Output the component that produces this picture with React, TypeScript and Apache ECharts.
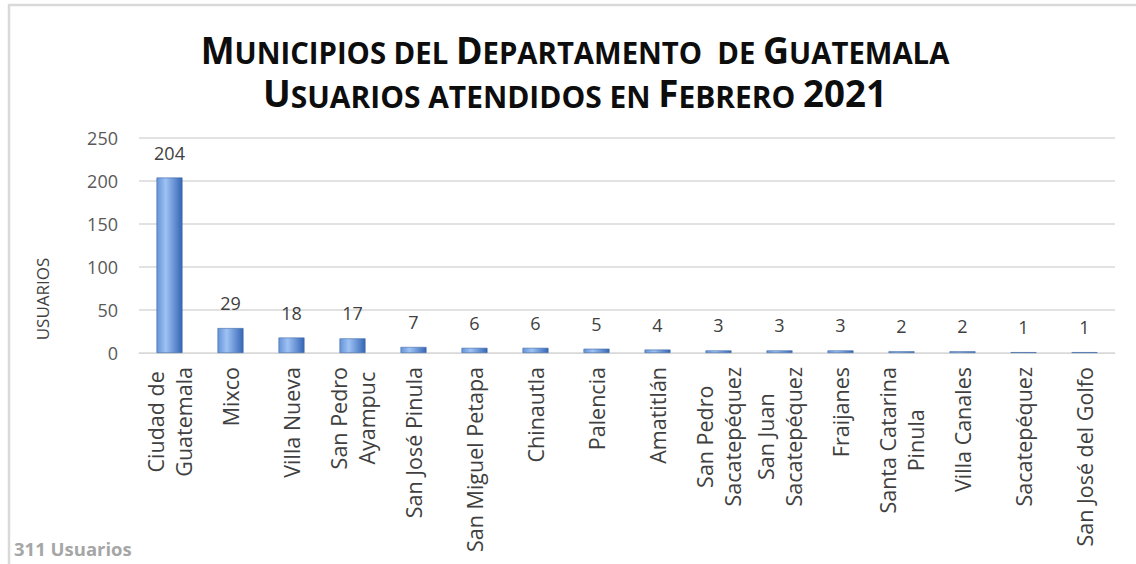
import React, { useEffect, useRef } from "react";
import * as echarts from "echarts";

const categories: string[] = [
  "Ciudad de\nGuatemala",
  "Mixco",
  "Villa Nueva",
  "San Pedro\nAyampuc",
  "San José Pinula",
  "San Miguel Petapa",
  "Chinautla",
  "Palencia",
  "Amatitlán",
  "San Pedro\nSacatepéquez",
  "San Juan\nSacatepéquez",
  "Fraijanes",
  "Santa Catarina\nPinula",
  "Villa Canales",
  "Sacatepéquez",
  "San José del Golfo",
];
const usuarios: number[] = [204, 29, 18, 17, 7, 6, 6, 5, 4, 3, 3, 3, 2, 2, 1, 1];
const yTicks = { min: 0, max: 250, interval: 50 };
const axisName = "USUARIOS";
const footnote = "311 Usuarios";
const titleLine1: [string, string][] = [
  ["M", "b"], ["UNICIPIOS DEL ", "s"], ["D", "b"], ["EPARTAMENTO  DE ", "s"], ["G", "b"], ["UATEMALA", "s"],
];
const titleLine2: [string, string][] = [
  ["U", "b"], ["SUARIOS ATENDIDOS EN ", "s"], ["F", "b"], ["EBRERO ", "s"], ["2021", "b"],
];

const FONT = "'Open Sans', 'Liberation Sans', sans-serif";

function richText(parts: [string, string][]) {
  return parts.map(([t, k]) => `{${k}|${t}}`).join("");
}

export default function App() {
  const ref = useRef<HTMLDivElement>(null);
  useEffect(() => {
    if (!ref.current) return;
    const chart = echarts.init(ref.current, undefined, { renderer: "svg" });
    const titleRich = {
      b: { fontFamily: FONT, fontWeight: "bold", fontSize: 38, fill: "#0d0d0d", verticalAlign: "bottom", lineHeight: 44 },
      s: { fontFamily: FONT, fontWeight: "bold", fontSize: 31, fill: "#0d0d0d", verticalAlign: "bottom", lineHeight: 39 },
    };
    chart.setOption({
      animation: false,
      backgroundColor: "#ffffff",
      grid: { left: 139, right: 21, top: 138, bottom: 211, containLabel: false },
      xAxis: {
        type: "category",
        data: categories,
        axisTick: { show: false },
        axisLine: { lineStyle: { color: "#d9d9d9", width: 1 } },
        axisLabel: {
          rotate: 90,
          interval: 0,
          margin: 14,
          formatter: (v: string) =>
            v
              .split("\n")
              .map((l) => `{c|${l}}`)
              .join("\n"),
          rich: {
            c: {
              fontFamily: FONT,
              fontSize: 21.5,
              lineHeight: 28,
              color: "#404040",
              align: "center",
            },
          },
        },
      },
      yAxis: {
        type: "value",
        min: yTicks.min,
        max: yTicks.max,
        interval: yTicks.interval,
        axisLine: { show: false },
        axisTick: { show: false },
        splitLine: { lineStyle: { color: "#d9d9d9", width: 1.5 } },
        axisLabel: { fontFamily: FONT, fontSize: 18, color: "#595959", margin: 21 },
      },
      series: [
        {
          type: "bar",
          data: usuarios,
          barWidth: 26,
          itemStyle: {
            color: new echarts.graphic.LinearGradient(0, 0, 1, 0, [
              { offset: 0, color: "#6593d8" },
              { offset: 0.35, color: "#9ec2f3" },
              { offset: 1, color: "#3566b5" },
            ]),
            borderColor: "#3f6aa8",
            borderWidth: 0.6,
          },
          label: {
            show: true,
            position: "top",
            distance: 16,
            fontFamily: FONT,
            fontSize: 18,
            color: "#404040",
          },
        },
      ],
      graphic: [
        {
          type: "rect",
          silent: true,
          shape: { x: 9, y: 5, width: 1200, height: 700 },
          style: { fill: "none", stroke: "#d9d9d9", lineWidth: 2.5 },
        },
        {
          type: "text",
          x: 575,
          y: 46,
          scaleX: 0.945,
          style: {
            text: richText(titleLine1),
            rich: titleRich,
            textAlign: "center",
            textVerticalAlign: "middle",
          },
        },
        {
          type: "text",
          x: 575,
          y: 89,
          scaleX: 0.965,
          style: {
            text: richText(titleLine2),
            rich: titleRich,
            textAlign: "center",
            textVerticalAlign: "middle",
          },
        },
        {
          type: "text",
          x: 42,
          y: 299,
          rotation: Math.PI / 2,
          style: {
            text: axisName,
            fontFamily: FONT,
            fontSize: 17,
            fill: "#404040",
            textAlign: "center",
            textVerticalAlign: "middle",
          },
        },
        {
          type: "text",
          x: 14,
          y: 548,
          style: {
            text: footnote,
            fontFamily: FONT,
            fontWeight: "bold",
            fontSize: 18.5,
            fill: "#a6a6a6",
            textAlign: "left",
            textVerticalAlign: "middle",
          },
        },
      ],
    });
    return () => chart.dispose();
  }, []);
  return (
    <div
      ref={ref}
      style={{ position: "absolute", left: 0, top: 0, width: 1136, height: 564 }}
    />
  );
}
